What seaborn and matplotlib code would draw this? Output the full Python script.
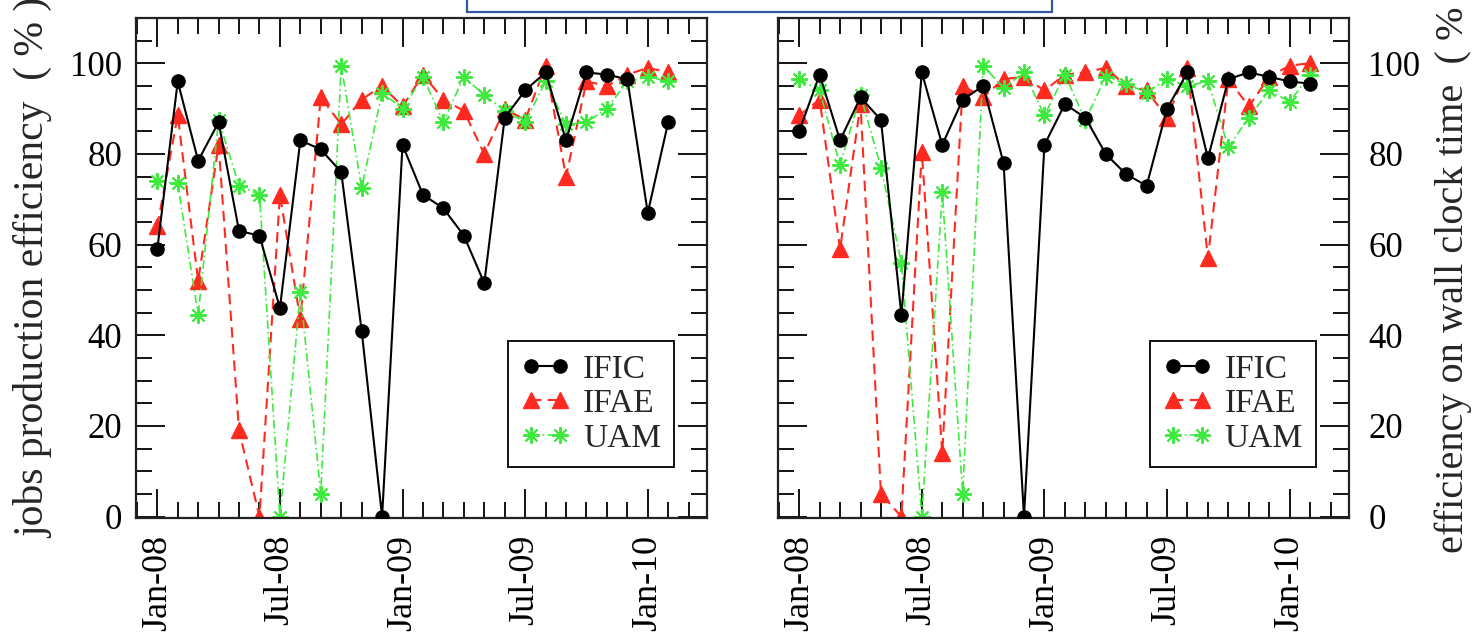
import numpy as np
import pandas as pd
import matplotlib
matplotlib.use("Agg")
import matplotlib.pyplot as plt
from matplotlib.patches import Rectangle
from matplotlib.ticker import MultipleLocator
import seaborn as sns

# monthly data, Jan-08 .. Feb-10
months = list(range(26))
tick_pos = [0, 6, 12, 18, 24]
tick_labels = ["Jan-08", "Jul-08", "Jan-09", "Jul-09", "Jan-10"]

# jobs production efficiency (%)
ific_jobs = [59, 96, 78.5, 87, 63, 62, 46, 83, 81, 76, 41, 0, 82, 71,
             68, 62, 51.5, 88, 94, 98, 83, 98, 97.5, 96.5, 67, 87]
ifae_jobs = [64, 88.5, 52, 82, 19, 0, 71, 43.5, 92.5, 86.5, 92, 95, 90.5, 97.5,
             92, 89.5, 80, 90, 87.5, 99.5, 75, 96, 95, 97.5, 99, 98]
uam_jobs = [74, 73.5, 44.5, 87.5, 73, 71, 0, 49.5, 5, 99.5, 72.5, 93.5, 90, 97,
            87, 97, 93, 89.5, 87, 96, 86.5, 87, 90, 96, 97, 96]

# efficiency on wall clock time (%)
ific_wall = [85, 97.5, 83, 92.5, 87.5, 44.5, 98, 82, 92, 95, 78, 0, 82, 91,
             88, 80, 75.5, 73, 90, 98, 79, 96.5, 98, 97, 96, 95.5]
ifae_wall = [88.5, 92, 59, 91, 5, 0, 80.5, 14, 95, 92.5, 96.5, 97, 94, 97.5,
             98, 99, 95, 94, 88, 99, 57, 96.5, 90.5, 97, 99.5, 100]
uam_wall = [96.5, 94, 77.5, 93, 77, 56, 0, 71.5, 5, 99.5, 94.5, 98, 88.5, 97.5,
            87.5, 97, 95.5, 93.5, 96.5, 95, 96, 81.5, 88, 94, 91.5, 97.5]

sns.set_style("ticks")
plt.rcParams["font.family"] = ["Liberation Serif", "DejaVu Serif"]

RED = "#ff2a1f"
GREEN = "#3fea3f"

fig = plt.figure(figsize=(14.77, 6.39), dpi=100)
ax1 = fig.add_axes([0.0921, 0.1894, 0.3866, 0.7825])
ax2 = fig.add_axes([0.5267, 0.1894, 0.3866, 0.7825])


def draw(ax, ific, ifae, uam):
    sns.lineplot(x=months, y=ific, ax=ax, color="black", lw=1.5,
                 marker="o", markersize=9.5, markeredgecolor="black",
                 markeredgewidth=1, label="IFIC", zorder=3)
    sns.lineplot(x=months, y=ifae, ax=ax, color=RED, lw=1.5,
                 linestyle=(0, (5, 3)), marker="^", markersize=12,
                 markeredgecolor=RED, markeredgewidth=1, label="IFAE", zorder=2)
    sns.lineplot(x=months, y=uam, ax=ax, color=GREEN, lw=1.2,
                 linestyle=(0, (5, 2, 1, 2)), marker=(8, 2, 0), markersize=12,
                 markeredgecolor=GREEN, markeredgewidth=1.4, label="UAM", zorder=2)
    ax.set_xlim(-1.04, 26.9)
    ax.set_ylim(-0.3, 110)
    ax.set_xticks(tick_pos)
    ax.set_xticklabels(tick_labels, rotation=90, fontsize=26)
    ax.xaxis.set_minor_locator(MultipleLocator(1))
    ax.set_yticks([0, 20, 40, 60, 80, 100])
    ax.yaxis.set_minor_locator(MultipleLocator(5))
    ax.tick_params(which="both", direction="in", top=True, right=True,
                   left=True, bottom=True, colors="black")
    ax.tick_params(axis="y", labelsize=25)
    ax.tick_params(which="major", length=21, width=1.3)
    ax.tick_params(which="minor", length=11.5, width=1.3)
    ax.tick_params(axis="x", pad=12)
    for s in ax.spines.values():
        s.set_linewidth(1.6)
        s.set_color("#222222")
    ax.set_xlabel("")
    leg = ax.legend(loc="lower left", bbox_to_anchor=(0.651, 0.102),
                    fontsize=24, numpoints=2, handlelength=1.47,
                    handletextpad=0.38, labelspacing=0.12, borderpad=0.4,
                    fancybox=False, framealpha=1, edgecolor="black",
                    borderaxespad=0)
    leg.get_frame().set_linewidth(1.3)


draw(ax1, ific_jobs, ifae_jobs, uam_jobs)
draw(ax2, ific_wall, ifae_wall, uam_wall)

ax1.tick_params(axis="y", pad=10)
ax1.set_ylabel("jobs production efficiency  ( % )", fontsize=30, labelpad=12)

ax2.tick_params(axis="y", labelleft=False, labelright=True, pad=14)
ax2.yaxis.set_label_position("right")
ax2.set_ylabel("efficiency on wall clock time  ( % )", fontsize=29, labelpad=10)

# blue box cut at the top of the picture
fig.patches.append(Rectangle((467 / 1477, 1 - 12 / 639), (1052 - 467) / 1477, 0.1,
                             transform=fig.transFigure, facecolor="white",
                             edgecolor="#3157a5", lw=1.6, clip_on=False))

fig.savefig("out.png", dpi=100)
